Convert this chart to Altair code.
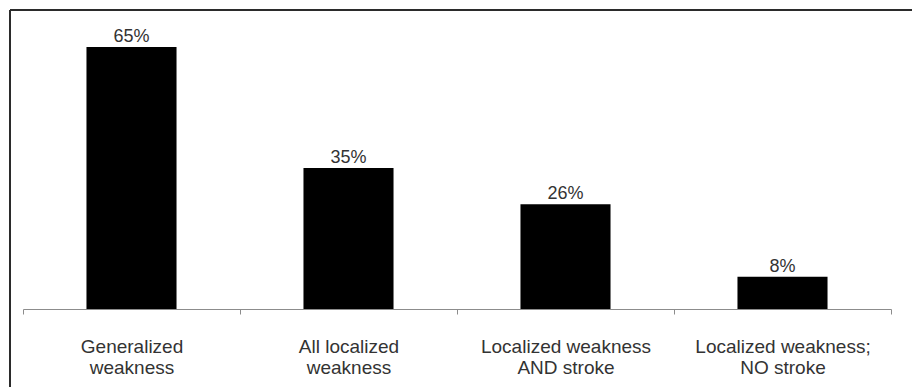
import altair as alt
import pandas as pd

categories = [
    "Generalized\nweakness",
    "All localized\nweakness",
    "Localized weakness\nAND stroke",
    "Localized weakness;\nNO stroke",
]
values = [65, 35, 26, 8]
value_labels = ["65%", "35%", "26%", "8%"]

df = pd.DataFrame({"category": categories, "value": values, "label": value_labels})

FONT = "Liberation Sans"

x_enc = alt.X(
    "category:N",
    sort=categories,
    scale=alt.Scale(range=[13, 881], paddingInner=0, paddingOuter=0),
    axis=alt.Axis(
        title=None,
        labelAngle=0,
        labelExpr="split(datum.label, '\\n')",
        labelFont=FONT,
        labelFontSize=19,
        labelColor="#333333",
        labelPadding=38,
        labelBaseline="alphabetic",
        labelLineHeight=21,
        labelOverlap=False,
        labelLimit=400,
        tickBand="extent",
        tickSize=5,
        tickColor="#8c8c8c",
        domainColor="#8c8c8c",
        domainWidth=1,
        tickWidth=1,
        grid=False,
    ),
)
y_enc = alt.Y("value:Q", scale=alt.Scale(domain=[0, 74.2], nice=False), axis=None)

base = alt.Chart(df)
bars = base.mark_bar(color="black", width=alt.RelativeBandSize(0.415)).encode(x=x_enc, y=y_enc)
text = base.mark_text(
    dy=-5, baseline="alphabetic", fontSize=18, font=FONT, color="#333333"
).encode(x=x_enc, y=y_enc, text="label:N")

frame_data = alt.Data(values=[{"k": 1}])
top_rule = alt.Chart(frame_data).mark_rule(color="#2b2b2b", strokeWidth=2).encode(
    x=alt.value(0), x2=alt.value(915), y=alt.value(0)
)
left_rule = alt.Chart(frame_data).mark_rule(color="#2b2b2b", strokeWidth=2).encode(
    x=alt.value(0), y=alt.value(0), y2=alt.value(390)
)

chart = (
    alt.layer(bars, text, top_rule, left_rule)
    .properties(
        width=902,
        height=299,
        padding={"left": 10, "top": 10, "right": 0, "bottom": 78},
        autosize=alt.AutoSizeParams(type="none"),
        background="white",
    )
    .configure_view(stroke=None)
)

chart.save("out.html", embed_options={"renderer": "svg", "actions": False})
